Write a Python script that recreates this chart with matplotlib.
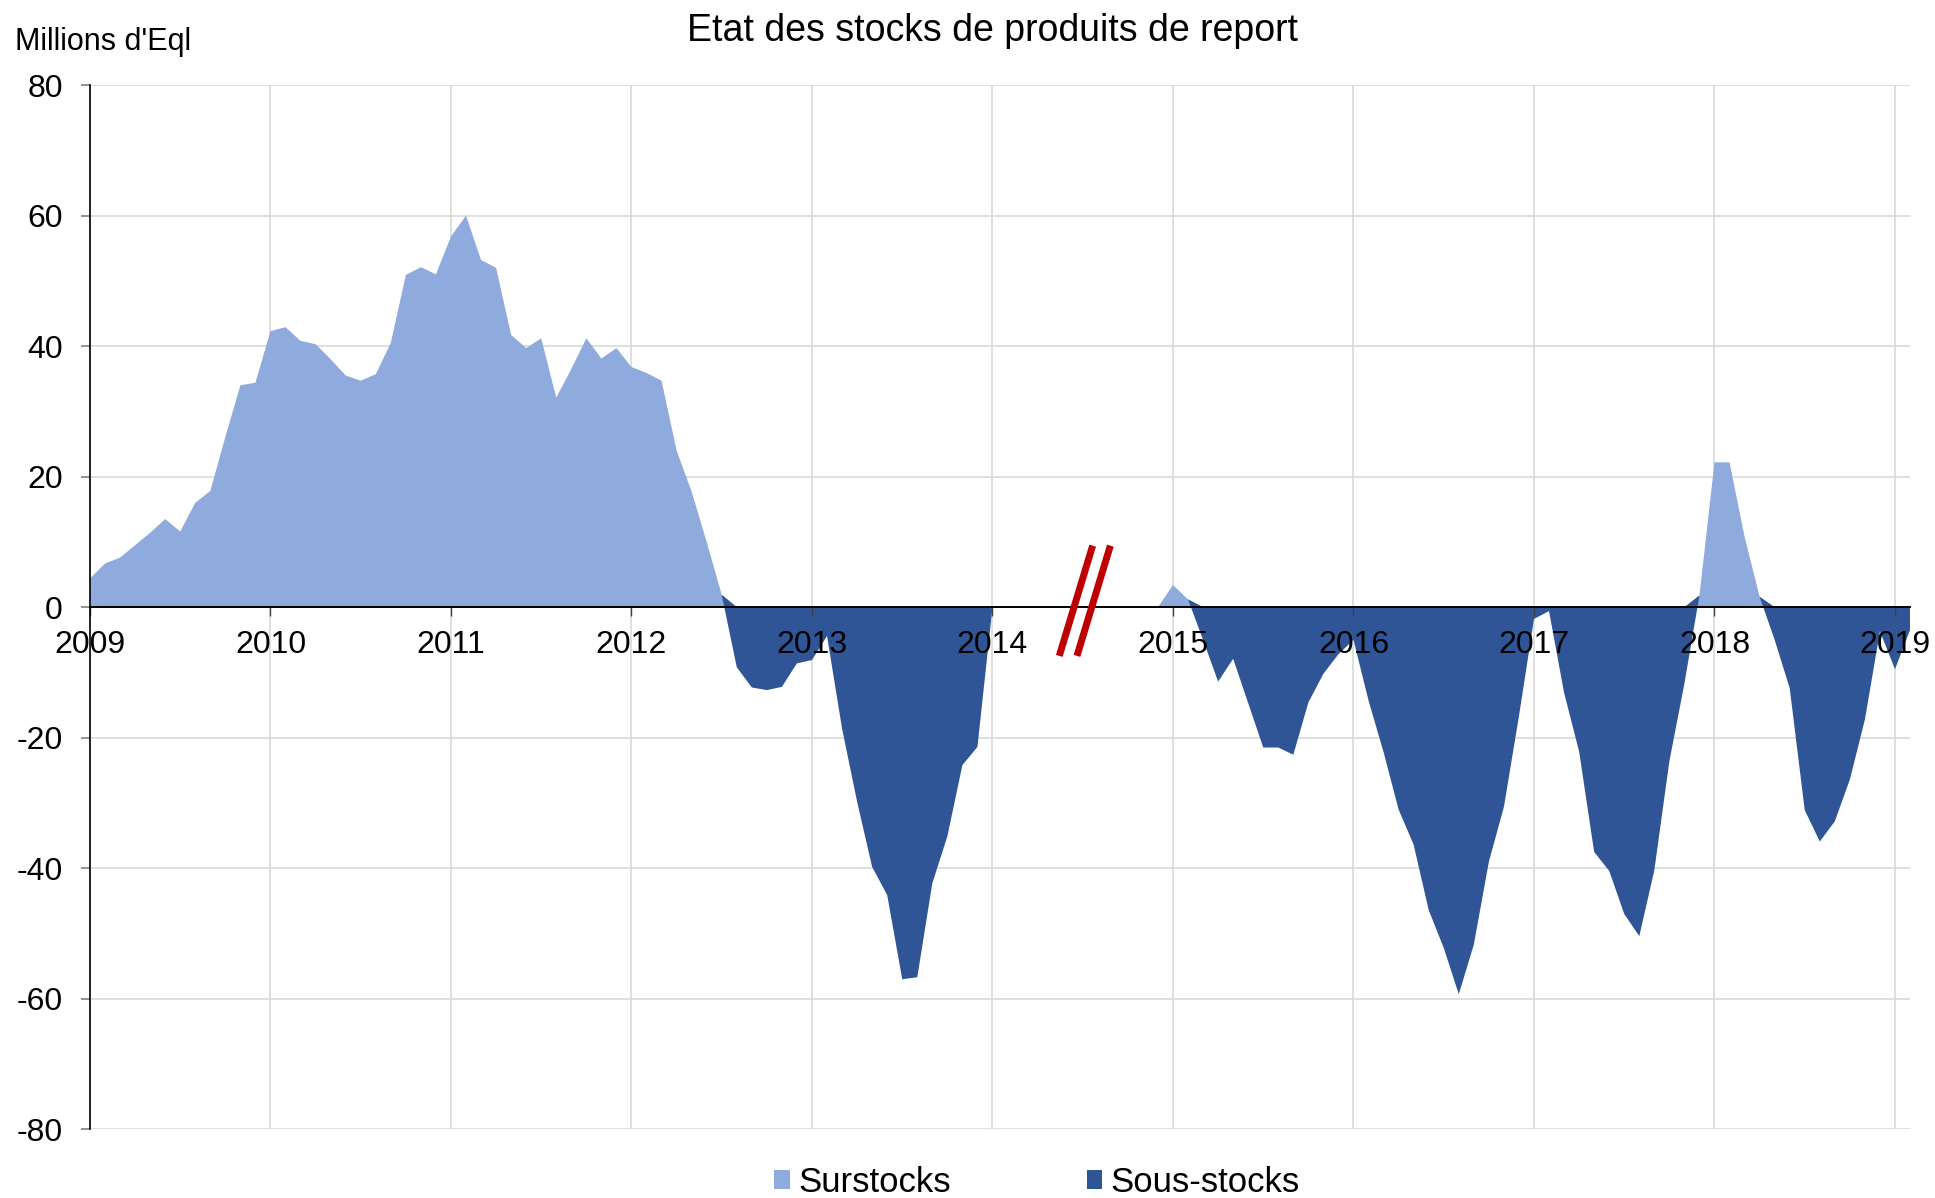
import numpy as np
import matplotlib
matplotlib.use("Agg")
from matplotlib import pyplot as plt
from matplotlib.patches import Patch

plt.rcParams['font.family'] = ['Liberation Sans', 'DejaVu Sans']
plt.rcParams['axes.unicode_minus'] = False

# monthly stock position, millions d'Eql
# first block : Jan 2009 -> Jan 2014
vals_a = [4.4, 6.7, 7.6, 9.5, 11.4, 13.5, 11.6, 16.0, 17.8, 26.1, 34.0, 34.4,
          42.3, 42.9, 40.8, 40.3, 38.0, 35.5, 34.7, 35.7, 40.5, 50.9, 52.1, 51.0,
          56.8, 60.0, 53.2, 52.0, 41.7, 39.7, 41.2, 32.1, 36.5, 41.2, 38.1, 39.7,
          36.8, 35.9, 34.7, 24.0, 17.7, 10.0, 1.9, -9.2, -12.3, -12.7, -12.2, -8.6,
          -8.1, -4.4, -18.6, -29.8, -39.8, -44.1, -57.0, -56.7, -42.3, -35.1, -24.2, -21.4,
          0.0]
# second block : Dec 2014 -> Feb 2019
vals_b = [0.0,
          3.4, 1.2, -5.0, -11.4, -7.9, -14.7, -21.5, -21.5, -22.6, -14.6, -10.2, -7.2,
          -5.0, -14.3, -22.2, -31.0, -36.4, -46.4, -52.2, -59.3, -51.7, -39.0, -30.6, -16.7,
          -1.8, -0.6, -13.1, -22.1, -37.5, -40.4, -47.0, -50.4, -40.3, -23.6, -11.7, 1.8,
          22.2, 22.2, 10.8, 1.6, -5.0, -12.4, -31.1, -35.9, -32.8, -26.4, -17.2, -3.7,
          -9.5, -3.5]
start_a = 2009.0
start_b = 2014 + 11 / 12.0

years = list(range(2009, 2020))
yticks = list(range(-80, 81, 20))

c_sur = '#8FAADC'
c_sous = '#2F5597'
c_grid = '#D9D9D9'

fig = plt.figure(figsize=(19.35, 11.98), dpi=100)
fig.set_facecolor('white')
ax = fig.add_axes([0.0465, 0.0573, 0.9406, 0.8717])

for start, vals in [(start_a, vals_a), (start_b, vals_b)]:
    v = np.array(vals)
    x = start + np.arange(len(v)) / 12.0
    sur = np.clip(v, 0, None)
    sous = np.clip(v, None, 0)
    ax.stackplot(x, sur, sous, colors=[c_sur, c_sous], linewidth=0, zorder=1)

# grid drawn by hand so it stays under the areas
for yr in years:
    ax.axvline(yr, color=c_grid, lw=1.2, zorder=0.5)
for yv in yticks:
    ax.axhline(yv, color=c_grid, lw=1.2, zorder=0.5)

# axis break marker
brk_x = [2014.370, 2014.555]
brk_y = [-7.46, 9.43]
for dx in [0, 0.098]:
    ax.plot([brk_x[0] + dx, brk_x[1] + dx], brk_y, color='#C00000', lw=5,
            solid_capstyle='butt', zorder=3)

ax.set_xlim(2009, 2019 + 1 / 12.0)
ax.set_ylim(-80, 80)
ax.set_xticks(years)
ax.set_yticks(yticks)

ax.spines['top'].set_visible(False)
ax.spines['right'].set_visible(False)
ax.spines['bottom'].set_position(('data', 0))
ax.spines['bottom'].set_color('black')
ax.spines['bottom'].set_linewidth(1.4)
ax.spines['left'].set_color('black')
ax.spines['left'].set_linewidth(1.2)

ax.tick_params(axis='x', direction='out', length=6.5, width=1, color='#404040',
               labelsize=23, pad=10)
ax.tick_params(axis='y', direction='out', length=6.5, width=1.2, color='#808080',
               labelsize=23, pad=13)

fig.text(0.513, 0.966, "Etat des stocks de produits de report", ha='center',
         va='baseline', fontsize=27)
fig.text(0.0078, 0.958, "Millions d'Eql", ha='left', va='baseline', fontsize=22)

handles = [Patch(facecolor=c_sur, edgecolor='none', label='Surstocks'),
           Patch(facecolor=c_sous, edgecolor='none', label='Sous-stocks')]
fig.legend(handles=handles, loc='lower center', bbox_to_anchor=(0.536, -0.027),
           ncol=2, frameon=False, fontsize=25, handlelength=0.45, handleheight=0.45,
           handletextpad=0.25, columnspacing=3.9)

plt.savefig('out.png', dpi=100, facecolor='white')
